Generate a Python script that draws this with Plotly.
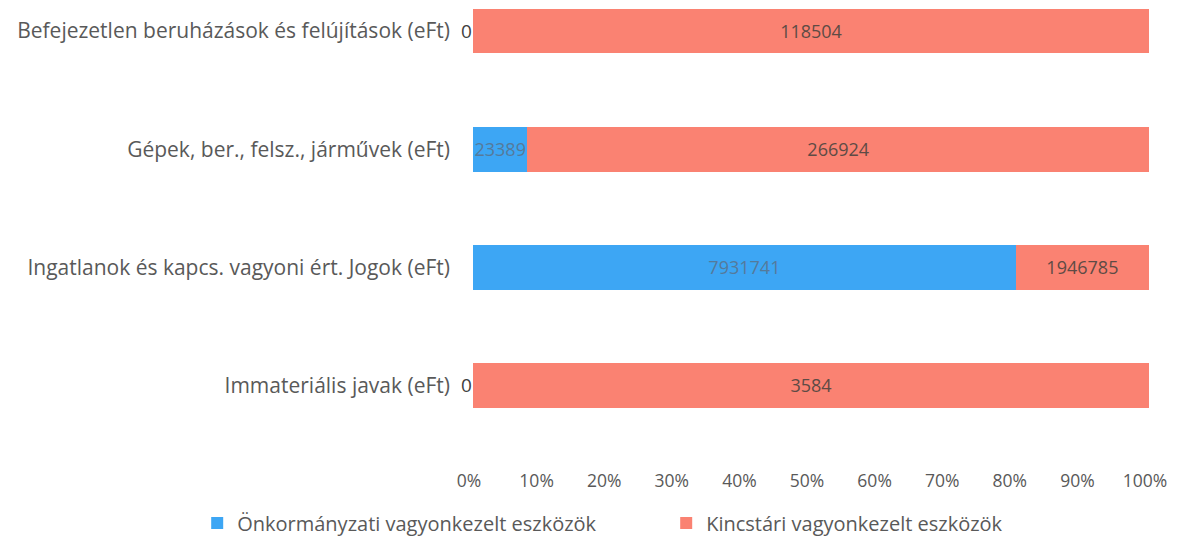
import plotly.graph_objects as go

categories = [
    "Immateriális javak (eFt)",
    "Ingatlanok és kapcs. vagyoni ért. Jogok (eFt)",
    "Gépek, ber., felsz., járművek (eFt)",
    "Befejezetlen beruházások és felújítások (eFt)",
]
onkormanyzati = [0, 7931741, 23389, 0]
kincstari = [3584, 1946785, 266924, 118504]
series_names = ["Önkormányzati vagyonkezelt eszközök", "Kincstári vagyonkezelt eszközök"]
tick_vals = [0, 10, 20, 30, 40, 50, 60, 70, 80, 90, 100]
tick_text = ["0%", "10%", "20%", "30%", "40%", "50%", "60%", "70%", "80%", "90%", "100%"]

BLUE = "#3DA6F4"
RED = "#FA8272"
FONT = "Open Sans"
GREY = "#595959"

fig = go.Figure()
fig.add_trace(go.Bar(
    y=categories, x=onkormanyzati, orientation="h", name=series_names[0],
    marker=dict(color=BLUE, line=dict(width=0)),
    text=[str(v) if v > 0 else "" for v in onkormanyzati],
    textposition="inside", insidetextanchor="middle", constraintext="none",
    textfont=dict(family=FONT, size=18, color="#557a9b"),
    cliponaxis=False,
))
fig.add_trace(go.Bar(
    y=categories, x=kincstari, orientation="h", name=series_names[1],
    marker=dict(color=RED, line=dict(width=0)),
    text=[str(v) for v in kincstari],
    textposition="inside", insidetextanchor="middle", constraintext="none",
    textfont=dict(family=FONT, size=18, color="#5e4b45"),
    cliponaxis=False,
))

# zero labels at the bar start
for cat, v in zip(categories, onkormanyzati):
    if v == 0:
        fig.add_annotation(x=0, y=cat, xref="x", yref="y", text=str(v),
                           showarrow=False, xanchor="right", xshift=1,
                           font=dict(family=FONT, size=19, color="#404040"))

fig.update_layout(
    barmode="stack", barnorm="percent", bargap=0.62,
    width=1169, height=531,
    margin=dict(l=465, r=28, t=0, b=71, autoexpand=False),
    plot_bgcolor="white", paper_bgcolor="white",
    font=dict(family=FONT, color=GREY),
    showlegend=True,
    legend=dict(orientation="h", xref="paper", yref="paper",
                x=-0.408, y=-0.1196, xanchor="left", yanchor="middle",
                traceorder="normal",
                font=dict(family=FONT, size=20, color=GREY),
                entrywidth=424, itemwidth=30),
)
fig.update_xaxes(range=[0, 100], tickvals=tick_vals, ticktext=tick_text,
                 showgrid=False, zeroline=False, showline=False,
                 ticklabelshift=-4,
                 tickfont=dict(family=FONT, size=17.5, color=GREY))
fig.update_yaxes(range=[-0.699, 3.195], showgrid=False, zeroline=False, showline=False,
                 ticklabelstandoff=22,
                 tickfont=dict(family=FONT, size=21, color=GREY))

fig.write_html("out.html")
